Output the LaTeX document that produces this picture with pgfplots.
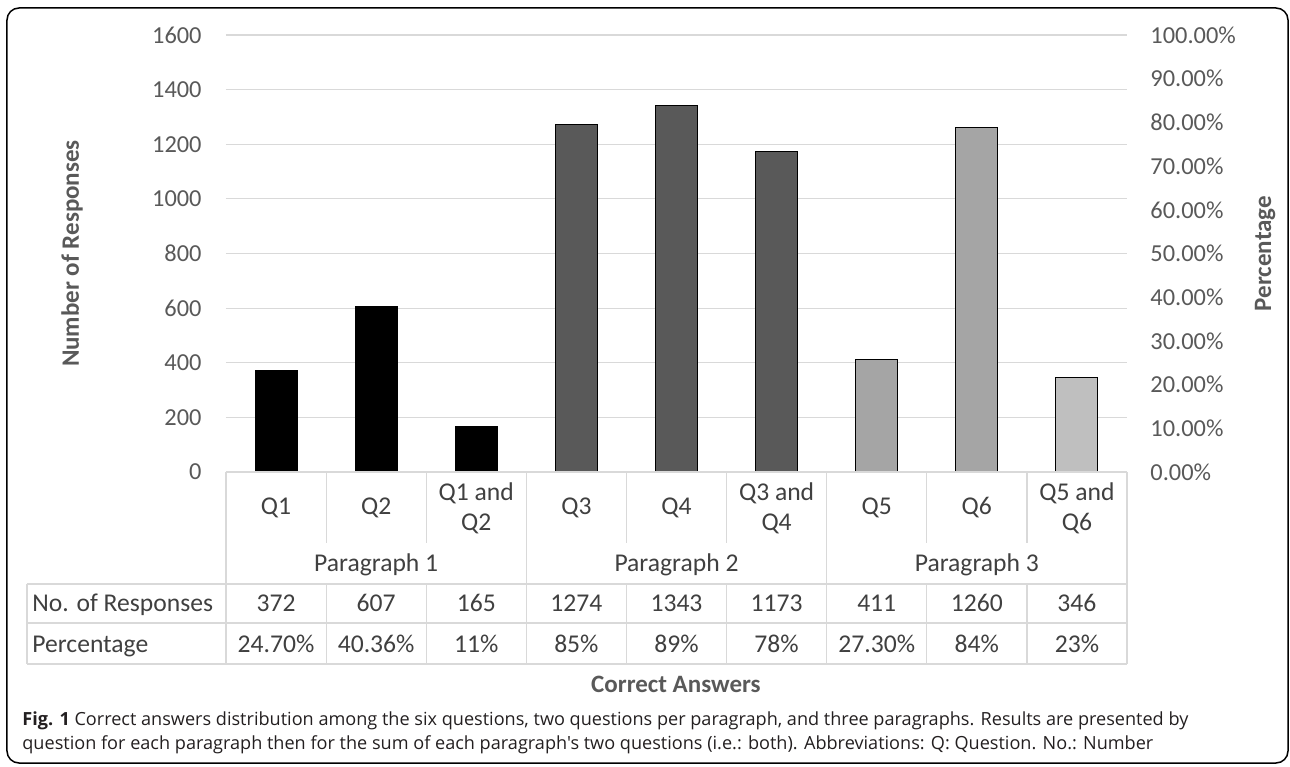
\documentclass[border=0pt]{standalone}
\usepackage{fontspec}
\setmainfont{Carlito}
\newfontfamily\capfont{Open Sans}
\usepackage{pgfplots}
\pgfplotsset{compat=1.18}
\definecolor{gridc}{HTML}{D9D9D9}
\definecolor{tickc}{HTML}{595959}
\definecolor{tabc}{HTML}{404040}
\definecolor{ptwo}{HTML}{595959}
\definecolor{pthree}{HTML}{A5A5A5}
\definecolor{pboth}{HTML}{BFBFBF}
\definecolor{capc}{HTML}{231F20}
\begin{document}
\begin{tikzpicture}[x=1pt,y=1pt]
\useasboundingbox (-113,-147) rectangle (532,236);
\draw[line width=0.75pt, rounded corners=6pt] (-109.5,-145.5) rectangle (531,232);
\begin{axis}[
  at={(0,0)}, anchor=south west,
  scale only axis, width=450.5pt, height=218.5pt,
  xmin=-0.5, xmax=8.5, ymin=0, ymax=1600,
  axis line style={draw=none},
  major tick length=0pt,
  ytick={0,200,...,1600},
  ymajorgrids, grid style={gridc, line width=0.6pt},
  /pgf/number format/assume math mode=true,
  /pgf/number format/1000 sep={},
  yticklabel style={font=\fontsize{12.2}{14}\selectfont, text=tickc, anchor=east, inner sep=0pt, xshift=-12pt},
  xtick={0,...,8},
  xticklabels={Q1,Q2,{Q1 and\\Q2},Q3,Q4,{Q3 and\\Q4},Q5,Q6,{Q5 and\\Q6}},
  xticklabel style={font=\fontsize{12.8}{15}\selectfont, text=tabc, align=center, anchor=center, inner sep=0pt, yshift=-18pt},
  clip=false,
]
\addplot[ybar, bar width=21pt, bar shift=0pt, fill=black, draw=black, line width=0.5pt] coordinates {(0,372) (1,607) (2,165)};
\addplot[ybar, bar width=21pt, bar shift=0pt, fill=ptwo, draw=black, line width=0.5pt] coordinates {(3,1274) (4,1343) (5,1173)};
\addplot[ybar, bar width=21pt, bar shift=0pt, fill=pthree, draw=black, line width=0.5pt] coordinates {(6,411) (7,1260)};
\addplot[ybar, bar width=21pt, bar shift=0pt, fill=pboth, draw=black, line width=0.5pt] coordinates {(8,346)};
\end{axis}
\begin{axis}[
  at={(0,0)}, anchor=south west,
  scale only axis, width=450.5pt, height=218.5pt,
  xmin=-0.5, xmax=8.5, ymin=0, ymax=100,
  hide x axis, axis y line*=right, axis line style={draw=none},
  major tick length=0pt,
  ytick={0,10,...,100},
  yticklabels={0.00\%,10.00\%,20.00\%,30.00\%,40.00\%,50.00\%,60.00\%,70.00\%,80.00\%,90.00\%,100.00\%},
  yticklabel style={font=\fontsize{12.2}{14}\selectfont, text=tickc, anchor=west, inner sep=0pt, xshift=11.5pt},
]
\end{axis}
% table grid
\def\cw{50.0556}
\begin{scope}[gridc, line width=0.6pt]
\draw (0,0) -- (450.5,0);
\foreach \k in {0,3,6,9} {\draw (\k*\cw,0) -- (\k*\cw,-96);}
\foreach \k in {1,2,4,5,7,8} {\draw (\k*\cw,0) -- (\k*\cw,-35.5); \draw (\k*\cw,-56) -- (\k*\cw,-96);}
\foreach \yy in {-56,-75.5,-96} {\draw (-99.5,\yy) -- (450.5,\yy);}
\draw (-99.5,-56) -- (-99.5,-96);
\end{scope}
\begin{scope}[every node/.style={font=\fontsize{12.8}{15}\selectfont, text=tabc, inner sep=0pt}]
\node[anchor=base] at (1.5*\cw,-49.5) {Paragraph 1};
\node[anchor=base] at (4.5*\cw,-49.5) {Paragraph 2};
\node[anchor=base] at (7.5*\cw,-49.5) {Paragraph 3};
\node[anchor=base west] at (-97,-69.8) {No. of Responses};
\node[anchor=base west] at (-97,-90.3) {Percentage};
\foreach \v [count=\i from 0] in {372,607,165,1274,1343,1173,411,1260,346}
  {\node[anchor=base] at (\i*\cw+0.5*\cw,-69.8) {\v};}
\foreach \v [count=\i from 0] in {24.70\%,40.36\%,11\%,85\%,89\%,78\%,27.30\%,84\%,23\%}
  {\node[anchor=base] at (\i*\cw+0.5*\cw,-90.3) {\v};}
\end{scope}
% axis titles
\node[font=\fontsize{12.5}{15}\selectfont\bfseries, text=tickc, rotate=90, inner sep=0pt] at (-77,109.25) {Number of Responses};
\node[font=\fontsize{12.5}{15}\selectfont\bfseries, text=tickc, rotate=90, inner sep=0pt] at (519.5,109.25) {Percentage};
\node[font=\fontsize{12.5}{15}\selectfont\bfseries, text=tickc, inner sep=0pt, anchor=base] at (225,-110.3) {Correct Answers};
% caption
\node[font=\capfont\fontsize{9.05}{12}\selectfont, text=capc, inner sep=0pt, anchor=base west] at (-102,-126.5) {\textbf{Fig. 1} Correct answers distribution among the six questions, two questions per paragraph, and three paragraphs. Results are presented by};
\node[font=\capfont\fontsize{9.05}{12}\selectfont, text=capc, inner sep=0pt, anchor=base west] at (-102,-138.5) {question for each paragraph then for the sum of each paragraph's two questions (i.e.: both). Abbreviations: Q: Question. No.: Number};
\end{tikzpicture}
\end{document}
